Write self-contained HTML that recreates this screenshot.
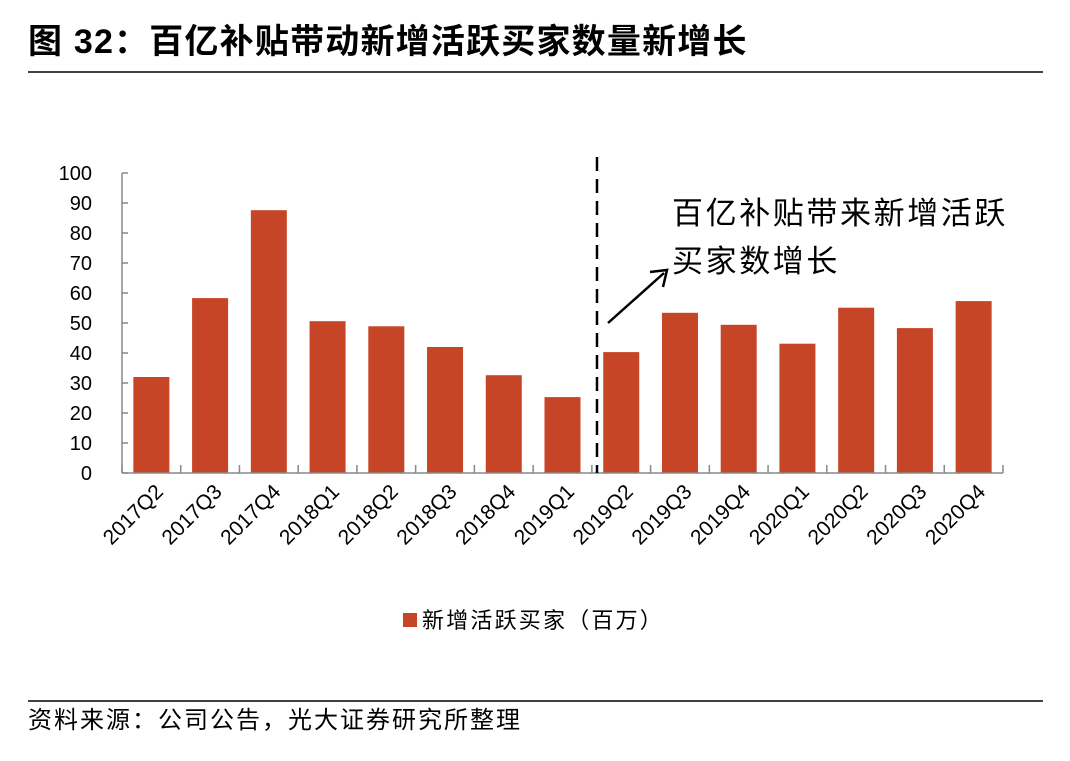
<!DOCTYPE html>
<html><head><meta charset="utf-8"><style>
body{margin:0;background:#fff;}
svg text{font-family:"Liberation Sans","Noto Sans CJK SC",sans-serif;}
</style></head><body>
<svg id="c" width="1070" height="756" xmlns="http://www.w3.org/2000/svg">
<text x="28" y="53" font-size="34" font-weight="bold" letter-spacing="1.2" fill="#000">图 32：百亿补贴带动新增活跃买家数量新增长</text>
<line x1="28" y1="72" x2="1043" y2="72" stroke="#000" stroke-width="1.5"/>
<g id="plot"></g>
<line x1="597" y1="157" x2="597" y2="473" stroke="#000" stroke-width="2.5" stroke-dasharray="14,8"/>
<line x1="608" y1="323" x2="664" y2="273" stroke="#000" stroke-width="2.5"/>
<polyline points="650,272 667,270 663,287" fill="none" stroke="#000" stroke-width="2.5"/>
<text x="672" y="224" font-size="31" letter-spacing="2.6" fill="#000">百亿补贴带来新增活跃</text>
<text x="672" y="272" font-size="31" letter-spacing="2.6" fill="#000">买家数增长</text>
<rect x="403" y="613" width="14" height="14" fill="#c64527"/>
<text x="422" y="628" font-size="22" letter-spacing="2.2" fill="#000">新增活跃买家（百万）</text>
<line x1="28" y1="701" x2="1043" y2="701" stroke="#000" stroke-width="1.5"/>
<text x="28" y="728" font-size="24" letter-spacing="2" fill="#000">资料来源：公司公告，光大证券研究所整理</text>
</svg>
<script>
const categories=["2017Q2","2017Q3","2017Q4","2018Q1","2018Q2","2018Q3","2018Q4","2019Q1","2019Q2","2019Q3","2019Q4","2020Q1","2020Q2","2020Q3","2020Q4"];
const values=[32,58.3,87.6,50.6,48.9,42,32.6,25.3,40.3,53.4,49.4,43.1,55.1,48.3,57.3];
const yTicks=[0,10,20,30,40,50,60,70,80,90,100];
const NS="http://www.w3.org/2000/svg";
const g=document.getElementById('plot');
const x0=122,x1=1003,y0=473,y100=173;
const step=(x1-x0)/categories.length;
function y(v){return y0-(v/100)*(y0-y100);}
function xc(i){return x0+step*(i+0.5);}
function mk(t,a){const e=document.createElementNS(NS,t);for(const k in a)e.setAttribute(k,a[k]);g.appendChild(e);return e;}
let e=mk('line',{x1:x0,y1:y(0),x2:x0,y2:y(100),stroke:'#888','stroke-width':1.5});


yTicks.forEach(v=>{
 let t=mk('line',{x1:x0,y1:y(v),x2:x0+6,y2:y(v),stroke:'#888','stroke-width':1.5});
 
 
 let l=mk('text',{x:92,y:y(v)+7,'font-size':20,'text-anchor':'end',fill:'#000'});
 l.textContent=v;
 
 
});
values.forEach((v,i)=>{
 let r=mk('rect',{x:xc(i)-18,y:y(v),width:36,height:y(0)-y(v),fill:'#c64527'});
 
 
});
e=mk('line',{x1:x0,y1:y0,x2:x1,y2:y0,stroke:'#888','stroke-width':1.5});


for(let i=0;i<=categories.length;i++){
 let t=mk('line',{x1:x0+step*i,y1:y0-8,x2:x0+step*i,y2:y0,stroke:'#888','stroke-width':1.5});
 
 
}
categories.forEach((c,i)=>{
 const tx=xc(i)+13,ty=y0+20;
 let l=mk('text',{x:tx,y:ty,'font-size':21,'text-anchor':'end',fill:'#000',transform:`rotate(-45 ${tx} ${ty})`});
 l.textContent=c;
 
 
});
</script>
</body></html>
